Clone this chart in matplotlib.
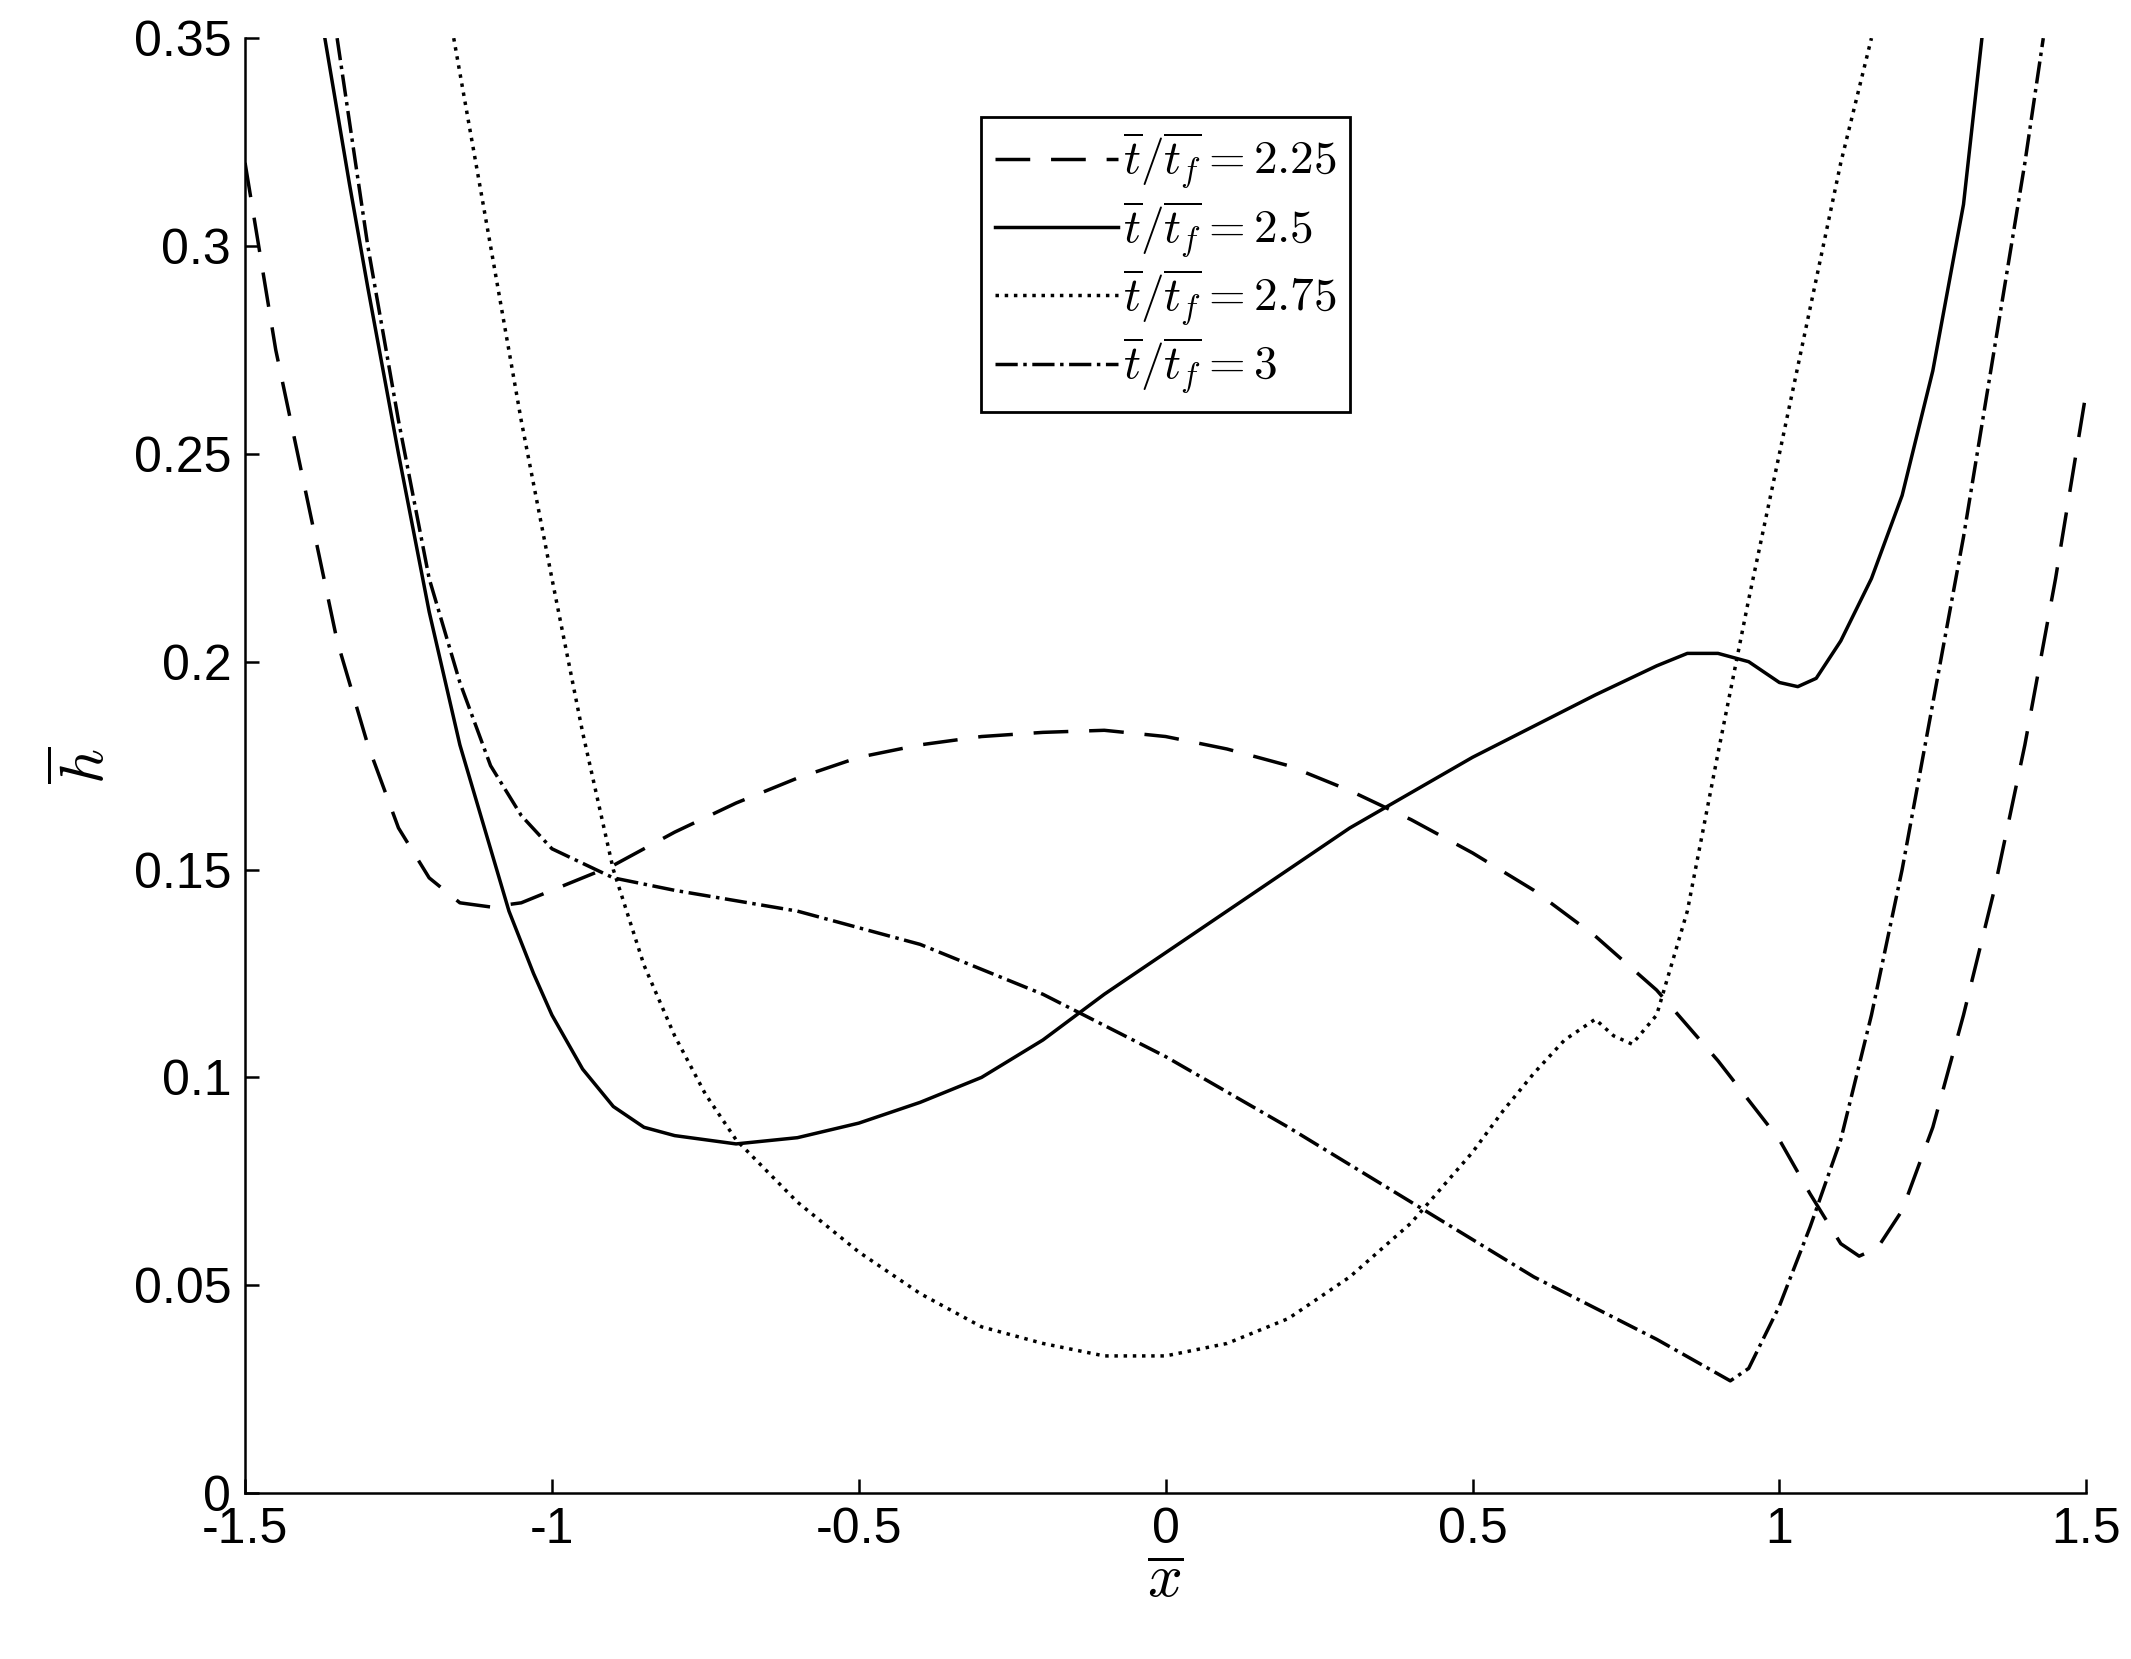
import matplotlib
matplotlib.use("Agg")
import matplotlib.pyplot as plt

plt.rcParams['font.family'] = ['Liberation Sans', 'DejaVu Sans']
plt.rcParams['mathtext.fontset'] = 'cm'

# t/tf = 2.25 (dashed)
x_225 = [-1.5, -1.45, -1.4, -1.35, -1.3, -1.25, -1.2, -1.15, -1.1, -1.05, -1.0, -0.9, -0.8, -0.7, -0.6,
         -0.5, -0.4, -0.3, -0.2, -0.1, 0.0, 0.1, 0.2, 0.3, 0.4, 0.5, 0.6, 0.7, 0.8, 0.9, 1.0, 1.05,
         1.1, 1.13, 1.16, 1.2, 1.25, 1.3, 1.35, 1.4, 1.45, 1.5]
h_225 = [0.32, 0.275, 0.24, 0.205, 0.18, 0.16, 0.148, 0.142, 0.141, 0.142, 0.145, 0.151, 0.159, 0.166, 0.172,
         0.177, 0.18, 0.182, 0.183, 0.1835, 0.182, 0.179, 0.175, 0.169, 0.162, 0.154, 0.145, 0.134, 0.121, 0.104, 0.085, 0.072,
         0.06, 0.057, 0.059, 0.068, 0.088, 0.115, 0.145, 0.18, 0.22, 0.265]

# t/tf = 2.5 (solid)
x_250 = [-1.37, -1.33, -1.3, -1.25, -1.2, -1.15, -1.1, -1.07, -1.03, -1.0, -0.95, -0.9, -0.85, -0.8, -0.7,
         -0.6, -0.5, -0.4, -0.3, -0.2, -0.1, 0.1, 0.3, 0.5, 0.7, 0.8, 0.85, 0.9, 0.95, 1.0, 1.03, 1.06,
         1.1, 1.15, 1.2, 1.25, 1.3, 1.33]
h_250 = [0.35, 0.315, 0.29, 0.25, 0.212, 0.18, 0.155, 0.14, 0.125, 0.115, 0.102, 0.093, 0.088, 0.086, 0.084,
         0.0855, 0.089, 0.094, 0.1, 0.109, 0.12, 0.14, 0.16, 0.177, 0.192, 0.199, 0.202, 0.202, 0.2, 0.195, 0.194, 0.196,
         0.205, 0.22, 0.24, 0.27, 0.31, 0.35]

# t/tf = 2.75 (dotted)
x_275 = [-1.16, -1.1, -1.05, -1.0, -0.95, -0.9, -0.85, -0.8, -0.75, -0.7, -0.6, -0.5, -0.4, -0.3, -0.2, -0.1,
         0.0, 0.1, 0.2, 0.3, 0.4, 0.5, 0.55, 0.6, 0.65, 0.7, 0.73, 0.76, 0.8, 0.85, 0.9, 0.95, 1.0,
         1.05, 1.1, 1.15]
h_275 = [0.35, 0.3, 0.258, 0.22, 0.183, 0.15, 0.127, 0.11, 0.096, 0.085, 0.07, 0.058, 0.048, 0.04, 0.036, 0.033,
         0.033, 0.036, 0.042, 0.052, 0.065, 0.082, 0.092, 0.101, 0.109, 0.114, 0.11, 0.108, 0.115, 0.14, 0.178, 0.215, 0.25,
         0.285, 0.32, 0.35]

# t/tf = 3 (dash-dot)
x_300 = [-1.35, -1.3, -1.25, -1.2, -1.15, -1.1, -1.05, -1.0, -0.9, -0.8, -0.6, -0.4, -0.2, 0.0, 0.2,
         0.4, 0.6, 0.8, 0.92, 0.95, 1.0, 1.05, 1.1, 1.15, 1.2, 1.25, 1.3, 1.35, 1.4, 1.43]
h_300 = [0.35, 0.3, 0.258, 0.22, 0.195, 0.175, 0.163, 0.155, 0.148, 0.145, 0.14, 0.132, 0.12, 0.105, 0.088,
         0.07, 0.052, 0.037, 0.027, 0.03, 0.045, 0.064, 0.085, 0.115, 0.15, 0.19, 0.23, 0.275, 0.32, 0.35]

fig = plt.figure(figsize=(21.31, 16.59), dpi=100)
ax = fig.add_axes([0.115, 0.1, 0.864, 0.877])

ax.plot(x_225, h_225, color='black', lw=2.5, dashes=(10, 6), label=r'$\overline{t}/\overline{t_f} = 2.25$')
ax.plot(x_250, h_250, color='black', lw=2.5, label=r'$\overline{t}/\overline{t_f} = 2.5$')
ax.plot(x_275, h_275, color='black', lw=2.5, linestyle=':', label=r'$\overline{t}/\overline{t_f} = 2.75$')
ax.plot(x_300, h_300, color='black', lw=2.5, linestyle='-.', label=r'$\overline{t}/\overline{t_f} = 3$')

ax.set_xlim(-1.5, 1.5)
ax.set_ylim(0, 0.35)
ax.set_xticks([-1.5, -1, -0.5, 0, 0.5, 1, 1.5])
ax.set_xticklabels(['-1.5', '-1', '-0.5', '0', '0.5', '1', '1.5'])
ax.set_yticks([0, 0.05, 0.1, 0.15, 0.2, 0.25, 0.3, 0.35])
ax.set_yticklabels(['0', '0.05', '0.1', '0.15', '0.2', '0.25', '0.3', '0.35'])
ax.tick_params(direction='in', labelsize=36, length=10, width=1.8, pad=10)
ax.spines['top'].set_visible(False)
ax.spines['right'].set_visible(False)
for s in ('left', 'bottom'):
    ax.spines[s].set_linewidth(1.8)
ax.set_xlabel(r'$\overline{x}$', fontsize=44, labelpad=0)
ax.set_ylabel(r'$\overline{h}$', fontsize=44, labelpad=12)

leg = ax.legend(loc='upper center', bbox_to_anchor=(0.5, 0.962), fontsize=34, fancybox=False,
                framealpha=1, edgecolor='black', handlelength=2.6, handletextpad=0.1,
                borderpad=0.3, labelspacing=0.15)
leg.get_frame().set_linewidth(2)

fig.savefig('out.png')
